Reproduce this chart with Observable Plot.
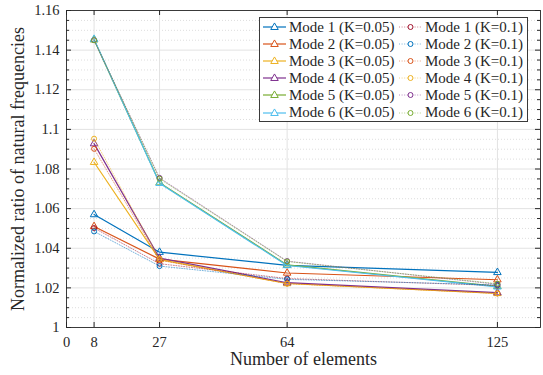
<!DOCTYPE html>
<html><head><meta charset="utf-8">
<script src="https://cdn.jsdelivr.net/npm/d3@7"></script>
<script src="https://cdn.jsdelivr.net/npm/@observablehq/plot@0.6"></script>
<style>
body{margin:0;background:#fff;}
#wrap{position:relative;width:543px;height:375px;font-family:"Liberation Serif",serif;}
#legend{position:absolute;left:259px;top:17px;width:269px;height:105px;border:1px solid #3a3a3a;background:#fff;box-sizing:border-box;}
.item{position:absolute;height:17px;display:flex;align-items:center;font-size:15px;color:#262626;white-space:nowrap;}
.item svg{margin-right:2px;}
</style></head><body><div id="wrap"></div>
<script>
// ---- data ----
const elements = [8, 27, 64, 125];
const modeNames = ["Mode 1", "Mode 2", "Mode 3", "Mode 4", "Mode 5", "Mode 6"];
// K = 0.05 (solid lines, triangles)
const k005Mode1 = [1.057, 1.038, 1.0314, 1.0278];
const k005Mode2 = [1.051, 1.0345, 1.0275, 1.0241];
const k005Mode3 = [1.0834, 1.0343, 1.0222, 1.0172];
const k005Mode4 = [1.0928, 1.035, 1.0226, 1.0176];
const k005Mode5 = [1.1452, 1.0731, 1.0316, 1.0208];
const k005Mode6 = [1.1455, 1.0728, 1.0313, 1.0205];
// K = 0.1 (dotted lines, circles)
const k01Mode1 = [1.0502, 1.0322, 1.0247, 1.0212];
const k01Mode2 = [1.0485, 1.031, 1.0243, 1.0215];
const k01Mode3 = [1.0902, 1.034, 1.0222, 1.0172];
const k01Mode4 = [1.0953, 1.0346, 1.0221, 1.0172];
const k01Mode5 = [1.1450, 1.0755, 1.0335, 1.0218];
const k01Mode6 = [1.1450, 1.0751, 1.0333, 1.0221];
const k005Colors = ["#0072BD", "#D95319", "#EDB120", "#7E2F8E", "#77AC30", "#4DBEEE"];
const k01Colors = ["#A2142F", "#0072BD", "#D95319", "#EDB120", "#7E2F8E", "#77AC30"];
const xTicks = [0, 8, 27, 64, 125];
const yTicks = [1, 1.02, 1.04, 1.06, 1.08, 1.1, 1.12, 1.14, 1.16];
const xLabel = "Number of elements";
const yLabel = "Normalized ratio of natural frequencies";

// ---- build table ----
const k005 = [k005Mode1, k005Mode2, k005Mode3, k005Mode4, k005Mode5, k005Mode6];
const k01 = [k01Mode1, k01Mode2, k01Mode3, k01Mode4, k01Mode5, k01Mode6];
const series = [];
k005.forEach((vals, i) => series.push({name: `${modeNames[i]} (K=0.05)`, color: k005Colors[i], kind: "k005",
  rows: vals.map((v, j) => ({x: elements[j], y: v, s: `${modeNames[i]} (K=0.05)`}))}));
k01.forEach((vals, i) => series.push({name: `${modeNames[i]} (K=0.1)`, color: k01Colors[i], kind: "k01",
  rows: vals.map((v, j) => ({x: elements[j], y: v, s: `${modeNames[i]} (K=0.1)`}))}));

const yMinor = d3.range(0, 33).map(i => 1 + i * 0.005).filter((d, i) => i % 4 !== 0);
const W = 543, H = 375, mL = 66, mR = 3, mT = 10, mB = 48;
const pw = W - mL - mR, ph = H - mT - mB;
const triR = 2.8, circR = 2.5;

const marks = [
  Plot.ruleY(yMinor, {stroke: "#cfcfcf", strokeDasharray: "1,2", strokeWidth: 0.7}),
  Plot.ruleY(yTicks.slice(1, -1), {stroke: "#e2e2e2", strokeWidth: 1}),
  Plot.ruleX(xTicks.slice(1), {stroke: "#e2e2e2", strokeWidth: 1}),
];
for (const s of series) {
  if (s.kind === "k005") {
    marks.push(Plot.line(s.rows, {x: "x", y: "y", stroke: "s", strokeWidth: 1.2}));
    marks.push(Plot.dot(s.rows, {x: "x", y: "y", stroke: "s", symbol: "triangle", r: triR, strokeWidth: 1, fill: "none"}));
  } else {
    marks.push(Plot.line(s.rows, {x: "x", y: "y", stroke: "s", strokeWidth: 0.9, strokeDasharray: "1,1.6", strokeOpacity: 0.6}));
    marks.push(Plot.dot(s.rows, {x: "x", y: "y", stroke: "s", symbol: "circle", r: circR, strokeWidth: 1, fill: "none"}));
  }
}
marks.push(
  Plot.frame({stroke: "#262626", strokeWidth: 0.9}),
  Plot.tickY(yTicks, {insetRight: pw - 5, stroke: "#262626"}),
  Plot.tickY(yTicks, {insetLeft: pw - 5, stroke: "#262626"}),
  Plot.tickY(yMinor, {insetRight: pw - 3, stroke: "#262626"}),
  Plot.tickY(yMinor, {insetLeft: pw - 3, stroke: "#262626"}),
  Plot.tickX(xTicks, {insetTop: ph - 5, stroke: "#262626"}),
  Plot.tickX(xTicks, {insetBottom: ph - 5, stroke: "#262626"}),
  Plot.axisY({ticks: yTicks, tickSize: 0, tickPadding: 7, tickFormat: d => String(+d.toFixed(2)), label: null, fill: "#262626"}),
  Plot.axisX({ticks: xTicks, tickSize: 0, tickPadding: 9, tickFormat: d => String(d), label: null, fill: "#262626"}),
  Plot.text([yLabel], {text: d => d, frameAnchor: "left", textAnchor: "middle", lineAnchor: "middle", rotate: -90, dx: -48, fontSize: 18, fill: "#262626"}),
  Plot.text([xLabel], {text: d => d, frameAnchor: "bottom", textAnchor: "middle", lineAnchor: "middle", dy: 32, fontSize: 18, fill: "#262626"})
);

const chart = Plot.plot({
  width: W, height: H,
  marginLeft: mL, marginRight: mR, marginTop: mT, marginBottom: mB,
  style: {fontFamily: "Liberation Serif, serif", fontSize: "14.5px", background: "#fff"},
  x: {domain: [0, 137.5], axis: null},
  y: {domain: [1, 1.16], axis: null},
  color: {domain: series.map(s => s.name), range: series.map(s => s.color)},
  marks
});
const wrap = document.getElementById("wrap");
wrap.appendChild(chart);

// ---- legend ----
const legend = document.createElement("div");
legend.id = "legend";
wrap.appendChild(legend);
series.forEach((s, idx) => {
  const col = s.kind === "k005" ? 0 : 1;
  const row = idx % 6;
  const item = document.createElement("div");
  item.className = "item";
  item.style.left = (col === 0 ? 2 : 138) + "px";
  item.style.top = (0.5 + row * 17.1) + "px";
  const ns = "http://www.w3.org/2000/svg";
  const svg = document.createElementNS(ns, "svg");
  svg.setAttribute("width", 25); svg.setAttribute("height", 12);
  const ln = document.createElementNS(ns, "line");
  ln.setAttribute("x1", 1); ln.setAttribute("x2", 24); ln.setAttribute("y1", 6); ln.setAttribute("y2", 6);
  ln.setAttribute("stroke", s.color);
  if (s.kind === "k005") { ln.setAttribute("stroke-width", 1.2); }
  else { ln.setAttribute("stroke-width", 0.9); ln.setAttribute("stroke-dasharray", "1,1.6"); ln.setAttribute("stroke-opacity", 0.6); }
  svg.appendChild(ln);
  if (s.kind === "k005") {
    const p = document.createElementNS(ns, "path");
    p.setAttribute("d", d3.symbol(d3.symbolTriangle, Math.PI * triR * triR)());
    p.setAttribute("transform", "translate(12.5,6.3)");
    p.setAttribute("fill", "#fff"); p.setAttribute("stroke", s.color);
    svg.appendChild(p);
  } else {
    const c = document.createElementNS(ns, "circle");
    c.setAttribute("cx", 12.5); c.setAttribute("cy", 6); c.setAttribute("r", circR);
    c.setAttribute("fill", "#fff"); c.setAttribute("stroke", s.color);
    svg.appendChild(c);
  }
  item.appendChild(svg);
  const t = document.createElement("span");
  t.textContent = s.name;
  item.appendChild(t);
  legend.appendChild(item);
});
</script></body></html>
